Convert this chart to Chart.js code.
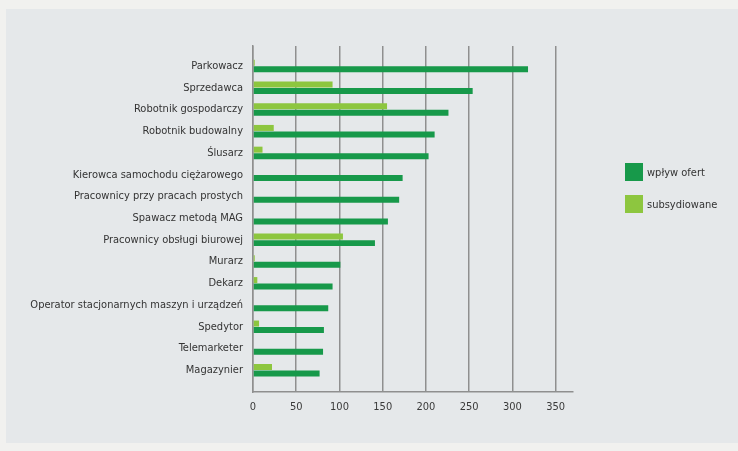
<!DOCTYPE html>
<html>
<head>
<meta charset="utf-8">
<script src="https://cdn.jsdelivr.net/npm/chart.js@4/dist/chart.umd.min.js"></script>
<style>
  html, body { margin: 0; padding: 0; background: #f1f1ef; }
  body { width: 738px; height: 451px; position: relative; overflow: hidden;
         font-family: 'DejaVu Sans Condensed', 'Liberation Sans Narrow', sans-serif; }
  #panel { position: absolute; left: 6px; top: 9px; width: 732px; height: 434px; background: #e5e8ea; }
  #legend { position: absolute; left: 625px; top: 163px; font-size: 11px; color: #333; }
  .item { display: flex; align-items: center; height: 18px; margin-bottom: 14px; }
  .box { width: 18px; height: 18px; margin-right: 4px; }
</style>
</head>
<body>
<div id="panel"><canvas id="chart"></canvas></div>
<div id="legend"></div>
<script>
// ─── Data ────────────────────────────────────────────────────────────────
const categories = [
  'Parkowacz', 'Sprzedawca', 'Robotnik gospodarczy', 'Robotnik budowalny', 'Ślusarz',
  'Kierowca samochodu ciężarowego', 'Pracownicy przy pracach prostych', 'Spawacz metodą MAG',
  'Pracownicy obsługi biurowej', 'Murarz', 'Dekarz', 'Operator stacjonarnych maszyn i urządzeń',
  'Spedytor', 'Telemarketer', 'Magazynier',
];
const wplywOfert   = [318, 254, 226, 210, 203, 173, 169, 156, 141, 101, 92, 87, 82, 81, 77];
const subsydiowane = [2, 92, 155, 24, 11, 0, 0, 0, 104, 2, 5, 0, 7, 0, 22];
const xTicks = [0, 50, 100, 150, 200, 250, 300, 350];

const DARK = '#17994a';
const LIGHT = '#8dc63f';
const FONT = "'DejaVu Sans Condensed', 'Liberation Sans Narrow', sans-serif";

const datasets = [
  { label: 'subsydiowane', data: subsydiowane, backgroundColor: LIGHT },
  { label: 'wpływ ofert', data: wplywOfert, backgroundColor: DARK },
];

// ─── Chart ───────────────────────────────────────────────────────────────
new Chart(document.getElementById('chart'), {
  type: 'bar',
  data: {
    labels: categories.map((_, i) => i),
    datasets: datasets.map(d => ({ ...d, categoryPercentage: 0.6, barPercentage: 0.92, borderWidth: 0 })),
  },
  options: {
    indexAxis: 'y',
    responsive: true,
    maintainAspectRatio: false,
    animation: false,
    layout: { padding: { left: 0, top: 37, right: 165, bottom: 21 } },
    plugins: { legend: { display: false }, tooltip: { enabled: false } },
    scales: {
      x: {
        type: 'linear',
        min: 0,
        max: 370,
        afterBuildTicks: axis => { axis.ticks = axis.ticks.filter(t => xTicks.includes(t.value)); },
        afterFit: scale => { scale.height = 30; },
        ticks: { stepSize: 50, includeBounds: false, color: '#3a3a3a', font: { family: FONT, size: 11 }, padding: 9 },
        grid: { color: '#8f8f8f', lineWidth: 1.5, drawTicks: false },
        border: { display: true, color: '#8f8f8f', width: 1.5 },
      },
      y: {
        type: 'linear',
        reverse: true,
        offset: false,
        min: -0.92,
        max: 15,
        afterBuildTicks: axis => {
          axis.ticks = axis.ticks.filter(t => Number.isInteger(t.value) && t.value >= 0 && t.value < categories.length);
        },
        afterFit: scale => { scale.width = 247; },
        ticks: {
          stepSize: 1,
          autoSkip: false,
          color: '#333',
          font: { family: FONT, size: 11 },
          padding: 10,
          callback: v => categories[v],
        },
        grid: { display: false, drawTicks: false, offset: false },
        border: { display: true, color: '#8f8f8f', width: 1.5 },
      },
    },
  },
});

// ─── Legend ──────────────────────────────────────────────────────────────
document.getElementById('legend').innerHTML = datasets.slice().reverse().map(d => `
  <div class="item"><span class="box" style="background:${d.backgroundColor}"></span>${d.label}</div>
`).join('');
</script>
</body>
</html>
